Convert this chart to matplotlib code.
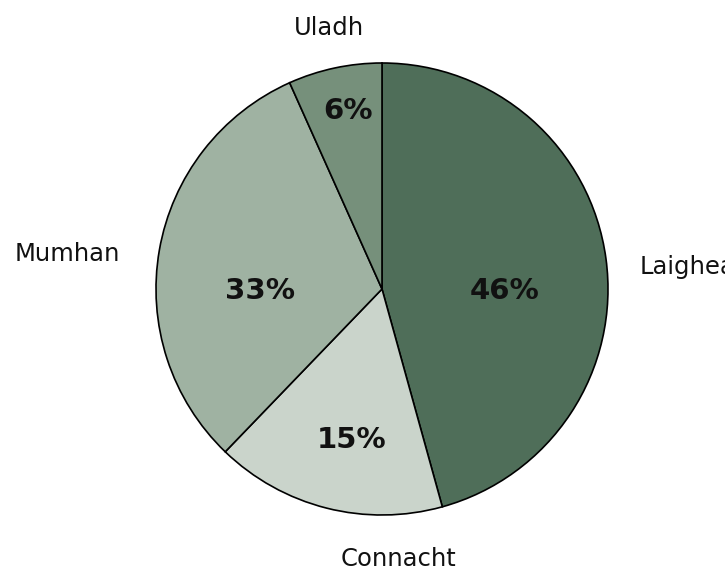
import matplotlib
matplotlib.use("Agg")
import matplotlib.pyplot as plt

# Data
provinces = ["Laighean", "Connacht", "Mumhan", "Uladh"]
shares = [45.7, 16.5, 31.1, 6.7]
pct_labels = ["46%", "15%", "33%", "6%"]
colors = ["#4f6e59", "#cad4cb", "#9fb2a2", "#76907b"]

# Layout (in units of pie radius)
name_pos = [(1.142, 0.097, "left"), (0.071, -1.195, "center"),
            (-1.159, 0.155, "right"), (-0.235, 1.155, "center")]
pct_pos = [(0.544, -0.009), (-0.133, -0.668), (-0.540, -0.009), (-0.152, 0.788)]

W, H = 725, 571
cx, cy, R = 382, 289, 226

fig = plt.figure(figsize=(W / 100, H / 100), dpi=100)
ax = fig.add_axes([0, 0, 1, 1])
wedges, _ = ax.pie(shares, colors=colors, startangle=90, counterclock=False,
                   radius=1.0, center=(0, 0),
                   wedgeprops=dict(edgecolor="black", linewidth=1.2))
ax.set_xlim(-cx / R, (W - cx) / R)
ax.set_ylim(-(H - cy) / R, cy / R)
ax.set_aspect("auto")
ax.axis("off")

for name, (x, y, ha) in zip(provinces, name_pos):
    ax.text(x, y, name, ha=ha, va="center", fontsize=17.5, color="#111111",
            family="DejaVu Sans")
for lab, (x, y) in zip(pct_labels, pct_pos):
    ax.text(x, y, lab, ha="center", va="center", fontsize=21, fontweight="bold",
            color="#111111", family="DejaVu Sans")

fig.savefig("out.png", dpi=100)
